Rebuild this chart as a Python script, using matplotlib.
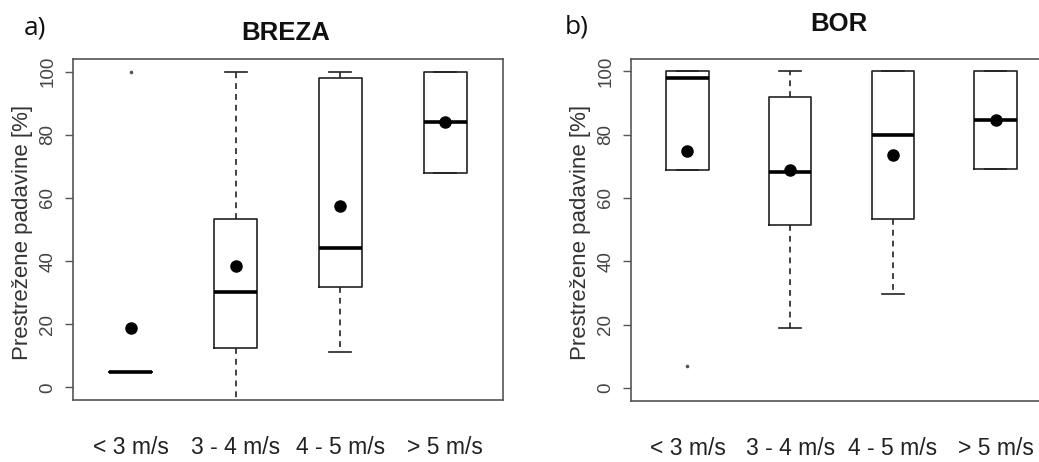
import matplotlib
matplotlib.use('Agg')
from matplotlib import pyplot as plt

plt.rcParams['font.family'] = ['Liberation Sans', 'DejaVu Sans']

# categories and box statistics
categories = ['< 3 m/s', '3 - 4 m/s', '4 - 5 m/s', '> 5 m/s']
positions = [1, 2, 3, 4]

breza_q1 = [5, 12.4, 31.8, 68.0]
breza_med = [5, 30.2, 44.2, 84.1]
breza_q3 = [5, 53.4, 98.0, 100]
breza_whislo = [5, -6, 11.3, 68.0]
breza_whishi = [5, 100, 100, 100]
breza_mean = [18.7, 38.3, 57.6, 84.1]
breza_fliers = [[100], [], [], []]

bor_q1 = [68.9, 51.3, 53.2, 69.0]
bor_med = [98.0, 68.2, 79.8, 84.5]
bor_q3 = [100, 91.7, 100, 100]
bor_whislo = [68.9, 19.0, 29.7, 69.0]
bor_whishi = [100, 100, 100, 100]
bor_mean = [74.8, 68.7, 73.4, 84.7]
bor_fliers = [[7.0], [], [], []]

yticks = [0, 20, 40, 60, 80, 100]
ylabel = 'Prestrežene padavine [%]'


def make_stats(q1, med, q3, lo, hi, mean, fliers):
	stats = []
	for i in range(len(q1)):
		stats.append(dict(q1=q1[i], med=med[i], q3=q3[i], whislo=lo[i], whishi=hi[i],
						  mean=mean[i], fliers=fliers[i]))
	return stats


def draw_panel(ax, stats, label_x):
	ax.bxp(stats, positions=positions, widths=0.41, capwidths=0.21, showmeans=True,
		   boxprops=dict(color='#222222', linewidth=1.2),
		   whiskerprops=dict(color='#222222', linewidth=1.2, linestyle=(0, (3.5, 3))),
		   capprops=dict(color='#222222', linewidth=1.2),
		   medianprops=dict(color='black', linewidth=2.6, solid_capstyle='butt'),
		   meanprops=dict(marker='o', markerfacecolor='black', markeredgecolor='black', markersize=8),
		   flierprops=dict(marker='o', markerfacecolor='#555555', markeredgecolor='#555555', markersize=1.6))
	ax.set_xlim(0.45, 4.55)
	ax.set_ylim(-4, 104)
	ax.set_yticks(yticks)
	ax.set_yticklabels([str(v) for v in yticks], rotation=90, va='center', fontsize=13.5, color='#444444')
	ax.tick_params(axis='y', length=6, width=1, color='#555555', pad=6)
	ax.set_xticks(positions)
	ax.set_xticklabels(categories, fontsize=16.5, color='#222222')
	ax.tick_params(axis='x', length=0, pad=26)
	ax.set_ylabel(ylabel, fontsize=16, color='#333333')
	ax.yaxis.set_label_coords(label_x, 0.49)
	for s in ax.spines.values():
		s.set_color('#555555')
		s.set_linewidth(1.2)


def main():
	fig = plt.figure(figsize=(10.39, 4.62), dpi=100)
	ax1 = fig.add_axes([73 / 1039, 1 - 400 / 462, 430 / 1039, 341 / 462])
	ax2 = fig.add_axes([631 / 1039, 1 - 400.5 / 462, 421 / 1039, 342 / 462])

	draw_panel(ax1, make_stats(breza_q1, breza_med, breza_q3, breza_whislo, breza_whishi, breza_mean, breza_fliers), -40 / 430)
	draw_panel(ax2, make_stats(bor_q1, bor_med, bor_q3, bor_whislo, bor_whishi, bor_mean, bor_fliers), -40 / 421)

	fig.text(286 / 1039, 1 - 33 / 462, 'BREZA', ha='center', va='center', fontsize=18.5, fontweight='bold', color='#111111')
	fig.text(839 / 1039, 1 - 24 / 462, 'BOR', ha='center', va='center', fontsize=18.5, fontweight='bold', color='#111111')
	fig.text(24 / 1039, 1 - 28 / 462, 'a)', ha='left', va='center', fontsize=19, family='Open Sans', color='#111111')
	fig.text(565 / 1039, 1 - 27 / 462, 'b)', ha='left', va='center', fontsize=19, family='Open Sans', color='#111111')

	fig.savefig('out.png', dpi=100)


if __name__ == "__main__":
	main()
